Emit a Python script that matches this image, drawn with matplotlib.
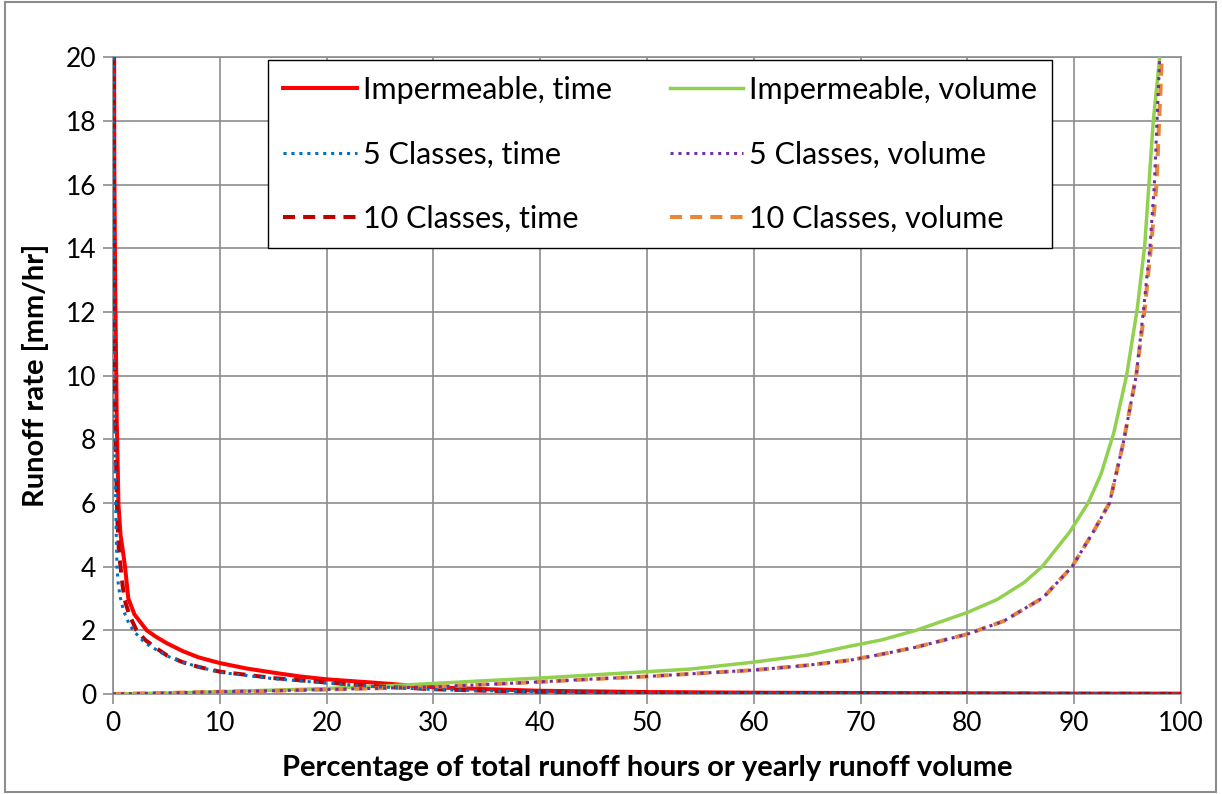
import matplotlib
matplotlib.use("Agg")
import matplotlib.pyplot as plt
from matplotlib.patches import Rectangle

plt.rcParams['font.family'] = ['Lato', 'DejaVu Sans']

# Impermeable, time
imp_t_x = [0.1, 0.12, 0.2, 0.3, 0.35, 0.45, 0.5, 0.7, 1.0, 1.12, 1.43, 2.0, 3.15, 4, 5, 6.5, 8, 10,
           12.5, 15, 17.5, 20, 25, 30, 35, 40, 50, 60, 70, 80, 90, 100]
imp_t_y = [20, 16.5, 13, 10, 8.5, 7, 6, 5, 4.3, 4.0, 3.0, 2.5, 2.0, 1.8, 1.6, 1.35, 1.15, 0.97,
           0.8, 0.67, 0.55, 0.46, 0.34, 0.21, 0.15, 0.1, 0.06, 0.04, 0.03, 0.02, 0.01, 0.01]

# 5 Classes, time
c5_t_x = [0.05, 0.1, 0.15, 0.2, 0.3, 0.37, 0.5, 0.7, 1.0, 1.5, 2.0, 3.0, 4, 5, 6.5, 8, 10,
          12.5, 15, 20, 25, 30, 35, 40, 50, 60, 80, 100]
c5_t_y = [20, 13, 9, 7, 5, 4.0, 3.4, 3.0, 2.6, 2.2, 1.95, 1.6, 1.4, 1.2, 1.0, 0.85, 0.68,
          0.58, 0.48, 0.34, 0.22, 0.14, 0.1, 0.07, 0.04, 0.02, 0.01, 0.0]

# 10 Classes, time
c10_t_x = [0.05, 0.1, 0.15, 0.2, 0.3, 0.4, 0.55, 0.7, 0.9, 1.1, 1.5, 2.2, 3.0, 4, 5, 6.5, 8, 10,
           12.5, 15, 20, 25, 30, 35, 40, 50, 60, 80, 100]
c10_t_y = [20, 14, 11, 9, 7, 5.5, 4.5, 4.0, 3.4, 2.95, 2.5, 2.0, 1.7, 1.45, 1.22, 1.0, 0.85, 0.7,
           0.6, 0.5, 0.36, 0.23, 0.15, 0.1, 0.07, 0.04, 0.02, 0.01, 0.0]

# Impermeable, volume
imp_v_x = [0, 5, 10, 15, 20, 26, 30, 35, 40, 45, 50, 54, 60, 65, 69, 72, 75.2, 80, 82.8, 85.3,
           87, 89.6, 91.3, 92.5, 93.7, 94.9, 95.9, 96.6, 97.4, 98.0]
imp_v_y = [0, 0.03, 0.07, 0.12, 0.17, 0.26, 0.33, 0.42, 0.5, 0.6, 0.7, 0.78, 1.0, 1.22, 1.5, 1.7,
           2.0, 2.56, 2.97, 3.5, 4.0, 5.1, 6.0, 6.9, 8.2, 10.0, 12.1, 14.1, 18, 20]

# 5 Classes, volume
c5_v_x = [0, 5, 10, 15, 20, 25, 30, 35, 40, 45, 50, 55, 60, 65, 69, 72, 75.2, 80, 83.4, 87.1,
          89.8, 91.8, 93.3, 94.6, 95.8, 96.5, 97.1, 97.5, 98.0]
c5_v_y = [0, 0.03, 0.07, 0.1, 0.14, 0.18, 0.22, 0.3, 0.38, 0.47, 0.55, 0.65, 0.75, 0.9, 1.06, 1.25,
          1.47, 1.88, 2.29, 3.03, 4.0, 5.1, 6.0, 7.9, 10.0, 12.1, 14.1, 16, 20]

# 10 Classes, volume
c10_v_x = [0, 5, 10, 15, 20, 25, 30, 35, 40, 45, 50, 55, 60, 65, 69, 72, 75.2, 80, 83.4, 87.1,
           89.8, 91.8, 93.3, 94.6, 95.8, 96.6, 97.2, 97.7, 98.2]
c10_v_y = [0, 0.03, 0.07, 0.1, 0.14, 0.18, 0.22, 0.3, 0.38, 0.47, 0.55, 0.65, 0.75, 0.9, 1.06, 1.25,
           1.47, 1.88, 2.29, 3.03, 4.0, 5.1, 6.0, 7.9, 10.0, 12.1, 14.1, 16, 20]

xticks = list(range(0, 101, 10))
yticks = list(range(0, 21, 2))

fig = plt.figure(figsize=(12.22, 7.94), dpi=100)
ax = fig.add_axes([0.0925, 0.126, 0.874, 0.802])

grid_c = '#8c8c8c'
ax.plot(imp_t_x, imp_t_y, color='#ff0000', lw=2.9, label='Impermeable, time', zorder=3)
ax.plot(c5_t_x, c5_t_y, color='#0070c0', lw=2.2, ls=(0, (1, 1.6)), label='5 Classes, time', zorder=5)
ax.plot(c10_t_x, c10_t_y, color='#c00000', lw=2.9, ls=(0, (3, 2)), label='10 Classes, time', zorder=4)
ax.plot(imp_v_x, imp_v_y, color='#92d050', lw=2.5, label='Impermeable, volume', zorder=3)
ax.plot(c5_v_x, c5_v_y, color='#7030a0', lw=2.2, ls=(0, (1, 1.6)), label='5 Classes, volume', zorder=5)
ax.plot(c10_v_x, c10_v_y, color='#e8873a', lw=2.9, ls=(0, (3, 2)), label='10 Classes, volume', zorder=4)

ax.set_xlim(0, 100)
ax.set_ylim(0, 20)
ax.set_xticks(xticks)
ax.set_yticks(yticks)
ax.grid(True, color=grid_c, lw=1.2)
ax.set_axisbelow(True)
for s in ax.spines.values():
    s.set_color(grid_c)
    s.set_linewidth(1.2)
ax.tick_params(axis='both', direction='out', length=7, width=1.2, color=grid_c,
               labelsize=19, pad=5)

ax.set_xlabel('Percentage of total runoff hours or yearly runoff volume', fontsize=21,
              fontweight='bold', labelpad=14)
ax.set_ylabel('Runoff rate [mm/hr]', fontsize=21, fontweight='bold', labelpad=12)

leg = ax.legend(loc='upper left', bbox_to_anchor=(0.145, 0.995), borderaxespad=0,
                ncol=2, fontsize=22, frameon=True, fancybox=False, handlelength=2.4,
                labelspacing=1.2, borderpad=0.5, handletextpad=0.2, columnspacing=1.9)
leg.get_frame().set_edgecolor('black')
leg.get_frame().set_linewidth(1.0)
leg.get_frame().set_alpha(1)

fig.patches.append(Rectangle((0.004, 0.003), 0.991, 0.994, transform=fig.transFigure,
                             fill=False, edgecolor='#8c8c8c', lw=1.5))

fig.savefig('out.png', dpi=100)
